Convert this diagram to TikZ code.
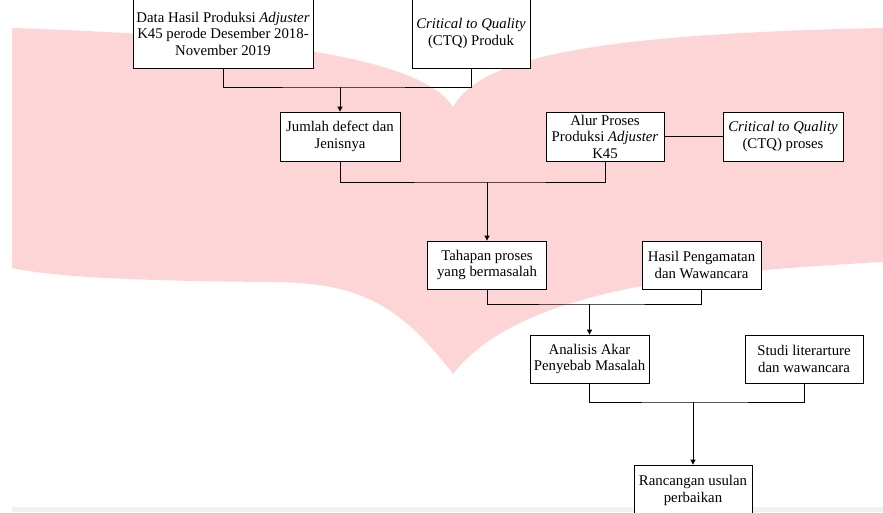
\documentclass[tikz,border=0pt]{standalone}
\usepackage{fontspec}
\setmainfont{Liberation Serif}
\usetikzlibrary{arrows.meta}
\definecolor{wmpink}{HTML}{FDD5D7}
\definecolor{pagegray}{HTML}{F1F1F1}
\begin{document}
\begin{tikzpicture}[x=1pt,y=-1pt,
  box/.style={draw, line width=0.8pt, fill=white, inner sep=0pt, align=center,
    font=\fontsize{14.8}{16.5}\selectfont},
  conn/.style={line width=0.8pt},
  arr/.style={line width=0.8pt, -{Triangle[length=5pt,width=5pt]}}]
\useasboundingbox (0,0) rectangle (883,512);
\clip (0,0) rectangle (883,512);
% watermark
\fill[wmpink] (12,28) .. controls (250,36) and (420,55) .. (453,107)
  .. controls (480,60) and (580,34) .. (883,28) -- (883,262)
  .. controls (700,272) and (520,288) .. (453,374)
  .. controls (400,305) and (360,282) .. (270,282)
  .. controls (150,281) and (60,278) .. (12,268) -- cycle;
\fill[pagegray] (12,507) rectangle (883,512);
% nodes
\node[box, minimum width=180pt, minimum height=69pt] (d1) at (223,33.5)
  {Data Hasil Produksi \textit{Adjuster}\\K45 perode Desember 2018-\\November 2019};
\node[box, minimum width=118pt, minimum height=69pt] (d2) at (471,33.5)
  {\textit{Critical to Quality}\\(CTQ) Produk};
\node[box, minimum width=120pt, minimum height=49pt] (jd) at (340,136.5)
  {Jumlah defect dan\\Jenisnya};
\node[box, minimum width=118pt, minimum height=49pt] (alur) at (605,136.5)
  {Alur Proses\\Produksi \textit{Adjuster}\\K45};
\node[box, minimum width=120pt, minimum height=49pt] (ctqp) at (783,136.5)
  {\textit{Critical to Quality}\\(CTQ) proses};
\node[box, minimum width=119pt, minimum height=48pt] (tah) at (487,265)
  {Tahapan proses\\yang bermasalah};
\node[box, minimum width=119pt, minimum height=48pt] (hasil) at (701.5,265)
  {Hasil Pengamatan\\dan Wawancara};
\node[box, minimum width=119pt, minimum height=48pt] (anal) at (589.5,359)
  {Analisis Akar\\Penyebab Masalah};
\node[box, minimum width=118pt, minimum height=48pt] (studi) at (804,359)
  {Studi literarture\\dan wawancara};
\node[box, minimum width=118pt, minimum height=51pt] (ranc) at (693,490.5)
  {Rancangan usulan\\perbaikan};
% junctions
\coordinate (j1) at (340,87);
\coordinate (j2) at (487,182);
\coordinate (j3) at (589.5,304);
\coordinate (j4) at (693,402);
% connectors
\draw[conn] (d1.south) |- (j1) -| (d2.south);
\draw[arr] (j1) -- (jd.north);
\draw[conn] (jd.south) |- (j2) -| (alur.south);
\draw[arr] (j2) -- (tah.north);
\draw[conn] (alur.east) -- (ctqp.west);
\draw[conn] (tah.south) |- (j3) -| (hasil.south);
\draw[arr] (j3) -- (anal.north);
\draw[conn] (anal.south) |- (j4) -| (studi.south);
\draw[arr] (j4) -- (ranc.north);
\end{tikzpicture}
\end{document}
